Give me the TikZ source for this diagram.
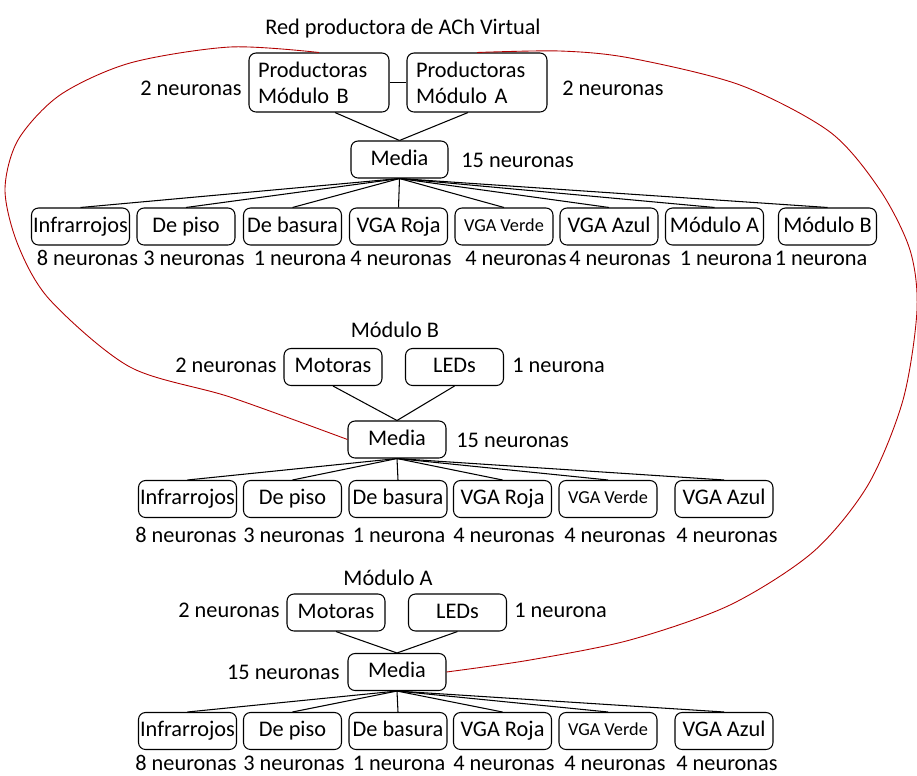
\documentclass[tikz,border=0pt]{standalone}
\usepackage{fontspec}
\setmainfont{Carlito}
\usetikzlibrary{positioning, calc}

\begin{document}
\begin{tikzpicture}[x=0.02cm, y=-0.02cm, line width=0.6pt,
  every node/.style={font=\fontsize{12.7}{14.7}\selectfont},
  caja/.style={draw, rounded corners=4pt, minimum width=1.96cm, minimum height=0.74cm, inner sep=0pt,
    text height=9pt, text depth=2.5pt},
  prod/.style={caja, minimum width=2.8cm, minimum height=1.18cm, text width=2.44cm, align=left,
    text height=, text depth=},
  chica/.style={font=\fontsize{10.4}{12}\selectfont, text height=7.5pt, text depth=2pt},
  arco/.style={red!70!black, line width=0.5pt}]
  \useasboundingbox (0,0) rectangle (917,775);

  % Red productora
  \node (titulo) at (403,29) {Red productora de ACh Virtual};
  \node[prod] (prodB) at (319,82.5) {Productoras\\Módulo B};
  \node[prod] (prodA) at (477,82.5) {Productoras\\Módulo A};
  \node (nProdB) at (191,88) {2 neuronas};
  \node[right] (nProdA) at (556,88) {2 neuronas};
  \node[caja, minimum width=1.94cm] (mediaT) at (399.5,159.5) {Media};
  \node[right] (nMediaT) at (455,160) {15 neuronas};
  \draw (prodB) -- (prodA);
  \draw ([xshift=0.32cm]prodB.south) -- (mediaT.north);
  \draw ([xshift=-0.18cm]prodA.south) -- (mediaT.north);
  % Entradas
  \node[caja] (infT) at (80.5,226.5) {Infrarrojos};
  \node[caja] (pisoT) at (186,226.5) {De piso};
  \node[caja] (basT) at (292.5,226.5) {De basura};
  \node[caja] (rojaT) at (398.5,226.5) {VGA Roja};
  \node[caja, chica] (verdeT) at (504,226.5) {VGA Verde};
  \node[caja] (azulT) at (609,226.5) {VGA Azul};
  \node[caja] (modAT) at (714.5,226.5) {Módulo A};
  \node[caja] (modBT) at (827.5,226.5) {Módulo B};
  \node (nInfT) at (87.5,258) {8 neuronas};
  \node (nPisoT) at (194,258) {3 neuronas};
  \node (nBasT) at (300,258) {1 neurona};
  \node (nRojaT) at (401,258) {4 neuronas};
  \node (nVerdeT) at (516,258) {4 neuronas};
  \node (nAzulT) at (620,258) {4 neuronas};
  \node (nModAT) at (726,258) {1 neurona};
  \node (nModBT) at (821,258) {1 neurona};
  \draw (mediaT.south) -- (infT.north);
  \draw (mediaT.south) -- (pisoT.north);
  \draw (mediaT.south) -- (basT.north);
  \draw (mediaT.south) -- (rojaT.north);
  \draw (mediaT.south) -- (verdeT.north);
  \draw (mediaT.south) -- (azulT.north);
  \draw (mediaT.south) -- (modAT.north);
  \draw (mediaT.south) -- (modBT.north);

  % Modulo B
  \node (titB) at (395,330) {Módulo B};
  \node[caja] (motB) at (333,367) {Motoras};
  \node[caja] (ledB) at (454.5,367) {LEDs};
  \node (nMotB) at (226,365) {2 neuronas};
  \node[right] (nLedB) at (506,365) {1 neurona};
  \node[caja] (mediaB) at (397,439.5) {Media};
  \node[right] (nMediaB) at (450,440) {15 neuronas};
  \draw (motB.south) -- (mediaB.north);
  \draw (ledB.south) -- (mediaB.north);
  \node[caja] (infB) at (187.5,499) {Infrarrojos};
  \node[caja] (pisoB) at (292.5,499) {De piso};
  \node[caja] (basB) at (398,499) {De basura};
  \node[caja] (rojaB) at (502.5,499) {VGA Roja};
  \node[caja, chica] (verdeB) at (608,499) {VGA Verde};
  \node[caja] (azulB) at (724,499) {VGA Azul};
  \node (nInfB) at (186,535) {8 neuronas};
  \node (nPisoB) at (294,535) {3 neuronas};
  \node (nBasB) at (399,535) {1 neurona};
  \node (nRojaB) at (504,535) {4 neuronas};
  \node (nVerdeB) at (615,535) {4 neuronas};
  \node (nAzulB) at (727,535) {4 neuronas};
  \draw (mediaB.south) -- (infB.north);
  \draw (mediaB.south) -- (pisoB.north);
  \draw (mediaB.south) -- (basB.north);
  \draw (mediaB.south) -- (rojaB.north);
  \draw (mediaB.south) -- (verdeB.north);
  \draw (mediaB.south) -- (azulB.north);

  % Modulo A
  \node (titA) at (388,578) {Módulo A};
  \node[caja] (motA) at (336,612.5) {Motoras};
  \node[caja] (ledA) at (457.5,612.5) {LEDs};
  \node (nMotA) at (229,610) {2 neuronas};
  \node[right] (nLedA) at (508,610) {1 neurona};
  \node[caja] (mediaA) at (397,672) {Media};
  \node[left] (nMediaA) at (346,672) {15 neuronas};
  \draw (motA.south) -- (mediaA.north);
  \draw (ledA.south) -- (mediaA.north);
  \node[caja] (infA) at (187.5,731) {Infrarrojos};
  \node[caja] (pisoA) at (292.5,731) {De piso};
  \node[caja] (basA) at (398,731) {De basura};
  \node[caja] (rojaA) at (502.5,731) {VGA Roja};
  \node[caja, chica] (verdeA) at (608,731) {VGA Verde};
  \node[caja] (azulA) at (724,731) {VGA Azul};
  \node (nInfA) at (186,763) {8 neuronas};
  \node (nPisoA) at (294,763) {3 neuronas};
  \node (nBasA) at (399,763) {1 neurona};
  \node (nRojaA) at (504,763) {4 neuronas};
  \node (nVerdeA) at (615,763) {4 neuronas};
  \node (nAzulA) at (727,763) {4 neuronas};
  \draw (mediaA.south) -- (infA.north);
  \draw (mediaA.south) -- (pisoA.north);
  \draw (mediaA.south) -- (basA.north);
  \draw (mediaA.south) -- (rojaA.north);
  \draw (mediaA.south) -- (verdeA.north);
  \draw (mediaA.south) -- (azulA.north);

  % Arcos de retroalimentacion
  \draw[arco] plot[smooth] coordinates {(prodB.north) (230,47) (130,63) (60,95) (18,140)
    (5,190) (18,245) (50,300) (130,367) (230,397) (mediaB.west)};
  \draw[arco] plot[smooth] coordinates {(prodA.north) (560,51) (630,58) (740,85) (830,132)
    (880,190) (910,250) (917,310) (903,400) (868,485) (813,552) (730,605) (630,640)
    (530,660) (mediaA.east)};
\end{tikzpicture}
\end{document}
